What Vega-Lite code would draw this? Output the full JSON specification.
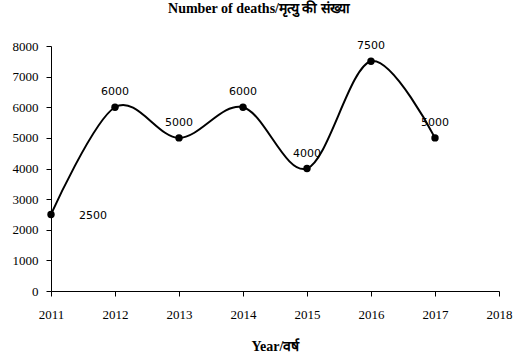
{
  "$schema": "https://vega.github.io/schema/vega-lite/v6.json",
  "autosize": "none",
  "width": 448,
  "height": 245,
  "padding": {"left": 51, "top": 46, "right": 20, "bottom": 62},
  "background": "white",
  "title": {
    "text": "Number of deaths/मृत्यु की संख्या",
    "font": "Liberation Serif",
    "fontSize": 14,
    "fontWeight": "bold",
    "color": "black",
    "anchor": "middle",
    "offset": 24,
    "dx": -16
  },
  "config": {
    "view": {"stroke": null},
    "axis": {
      "grid": false,
      "domainColor": "black",
      "tickColor": "black",
      "labelColor": "black",
      "labelFont": "Liberation Serif",
      "labelFontSize": 13,
      "labelFlush": false,
      "labelOverlap": false,
      "titleFont": "Liberation Serif",
      "titleFontSize": 14,
      "titleFontWeight": "bold",
      "titleColor": "black"
    }
  },
  "data": {
    "values": [
      {"year": 2011, "deaths": 2500},
      {"year": 2012, "deaths": 6000},
      {"year": 2013, "deaths": 5000},
      {"year": 2014, "deaths": 6000},
      {"year": 2015, "deaths": 4000},
      {"year": 2016, "deaths": 7500},
      {"year": 2017, "deaths": 5000}
    ]
  },
  "encoding": {
    "x": {
      "field": "year",
      "type": "quantitative",
      "scale": {"domain": [2011, 2018], "nice": false, "zero": false},
      "axis": {
        "values": [2011, 2012, 2013, 2014, 2015, 2016, 2017, 2018],
        "format": "d",
        "title": "Year/वर्ष",
        "labelPadding": 12,
        "tickSize": 5,
        "titlePadding": 18
      }
    },
    "y": {
      "field": "deaths",
      "type": "quantitative",
      "scale": {"domain": [0, 8000], "nice": false},
      "axis": {
        "values": [0, 1000, 2000, 3000, 4000, 5000, 6000, 7000, 8000],
        "format": "d",
        "title": null,
        "tickSize": 5,
        "labelPadding": 8
      }
    }
  },
  "layer": [
    {
      "mark": {"type": "line", "interpolate": "cardinal", "color": "black", "strokeWidth": 2}
    },
    {
      "mark": {"type": "point", "filled": true, "color": "black", "size": 55, "opacity": 1}
    },
    {
      "transform": [{"filter": "datum.year != 2011"}],
      "mark": {"type": "text", "font": "DejaVu Sans", "fontSize": 11, "color": "black", "baseline": "middle", "align": "center", "dy": -15},
      "encoding": {"text": {"field": "deaths", "type": "quantitative", "format": "d"}}
    },
    {
      "transform": [{"filter": "datum.year == 2011"}],
      "mark": {"type": "text", "font": "DejaVu Sans", "fontSize": 11, "color": "black", "baseline": "middle", "align": "center", "dx": 42, "dy": 2},
      "encoding": {"text": {"field": "deaths", "type": "quantitative", "format": "d"}}
    }
  ]
}
